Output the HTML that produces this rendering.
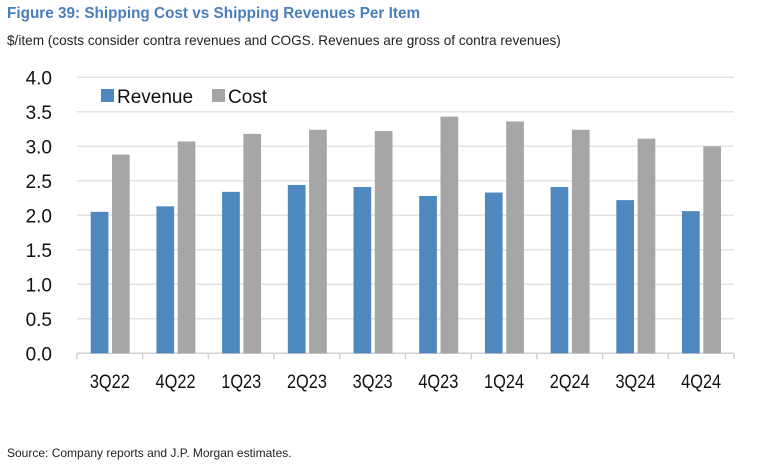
<!DOCTYPE html>
<html><head><meta charset="utf-8"><style>
body{margin:0;background:#fff;font-family:"Liberation Sans",Arial,sans-serif}
#wrap{position:relative;width:766px;height:469px;overflow:hidden;background:#fff}
.t{position:absolute;white-space:nowrap}
</style></head><body>
<div id="wrap">
<div class="t" style="left:7px;top:5px;font-size:15.3px;font-weight:bold;color:#4a7ebb">Figure 39: Shipping Cost vs Shipping Revenues Per Item</div>
<div class="t" style="left:7px;top:33px;font-size:13.6px;color:#222">$/item (costs consider contra revenues and COGS. Revenues are gross of contra revenues)</div>
<svg id="chart" width="766" height="469" style="position:absolute;left:0;top:0"></svg>
<div class="t" style="left:7px;top:446px;font-size:12px;color:#222">Source: Company reports and J.P. Morgan estimates.</div>
</div>
<script>
const categories=["3Q22","4Q22","1Q23","2Q23","3Q23","4Q23","1Q24","2Q24","3Q24","4Q24"];
const revenue=[2.05,2.13,2.34,2.44,2.41,2.28,2.33,2.41,2.22,2.06];
const cost=[2.88,3.07,3.18,3.24,3.22,3.43,3.36,3.24,3.11,3.00];
const yTicks=[0,0.5,1,1.5,2,2.5,3,3.5,4];
const yTickLabels=["0.0","0.5","1.0","1.5","2.0","2.5","3.0","3.5","4.0"];
const NS="http://www.w3.org/2000/svg";
const svg=document.getElementById('chart');
const x0=77,gw=65.7,y0=353.3,pxPer=69;
const y=v=>y0-v*pxPer;
const gx=i=>x0+i*gw;
function mk(t,a){const e=document.createElementNS(NS,t);for(const k in a)e.setAttribute(k,a[k]);svg.appendChild(e);return e;}
yTicks.forEach((v,i)=>{
  if(v>0){const g=mk('line',{x1:x0,x2:x0+gw*10,y1:y(v),y2:y(v),stroke:'#e3e3e3','stroke-width':1.5});
  
  }
  const t=mk('text',{x:52,y:y(v)+7,'font-size':19,'text-anchor':'end',fill:'#111','font-family':'Liberation Sans, sans-serif'});
  t.textContent=yTickLabels[i];
  
  
});
const ax=mk('line',{x1:x0,x2:x0+gw*10,y1:y0,y2:y0,stroke:'#d0d0d0','stroke-width':1.5});


for(let i=0;i<=10;i++){const tk=mk('line',{x1:gx(i),x2:gx(i),y1:y0,y2:y0+6,stroke:'#d0d0d0','stroke-width':1.5});

}
categories.forEach((c,i)=>{
  const r=mk('rect',{x:gx(i)+13.7,y:y(revenue[i]),width:17.7,height:revenue[i]*pxPer,fill:'#4f88bf'});
  
  
  const b=mk('rect',{x:gx(i)+35,y:y(cost[i]),width:17.7,height:cost[i]*pxPer,fill:'#a6a6a6'});
  
  
  const t=mk('text',{x:gx(i)+gw/2,y:388,'font-size':19,'text-anchor':'middle',fill:'#111','font-family':'Liberation Sans, sans-serif',textLength:40,lengthAdjust:'spacingAndGlyphs'});
  t.textContent=c;
  
  
});
const l1=mk('rect',{x:101,y:89,width:13,height:13,fill:'#4f88bf'});


const lt1=mk('text',{x:117,y:103,'font-size':19,fill:'#111','font-family':'Liberation Sans, sans-serif'});
lt1.textContent='Revenue';


const l2=mk('rect',{x:212,y:89,width:13,height:13,fill:'#a6a6a6'});


const lt2=mk('text',{x:228,y:103,'font-size':19,fill:'#111','font-family':'Liberation Sans, sans-serif'});
lt2.textContent='Cost';


</script>
</body></html>
